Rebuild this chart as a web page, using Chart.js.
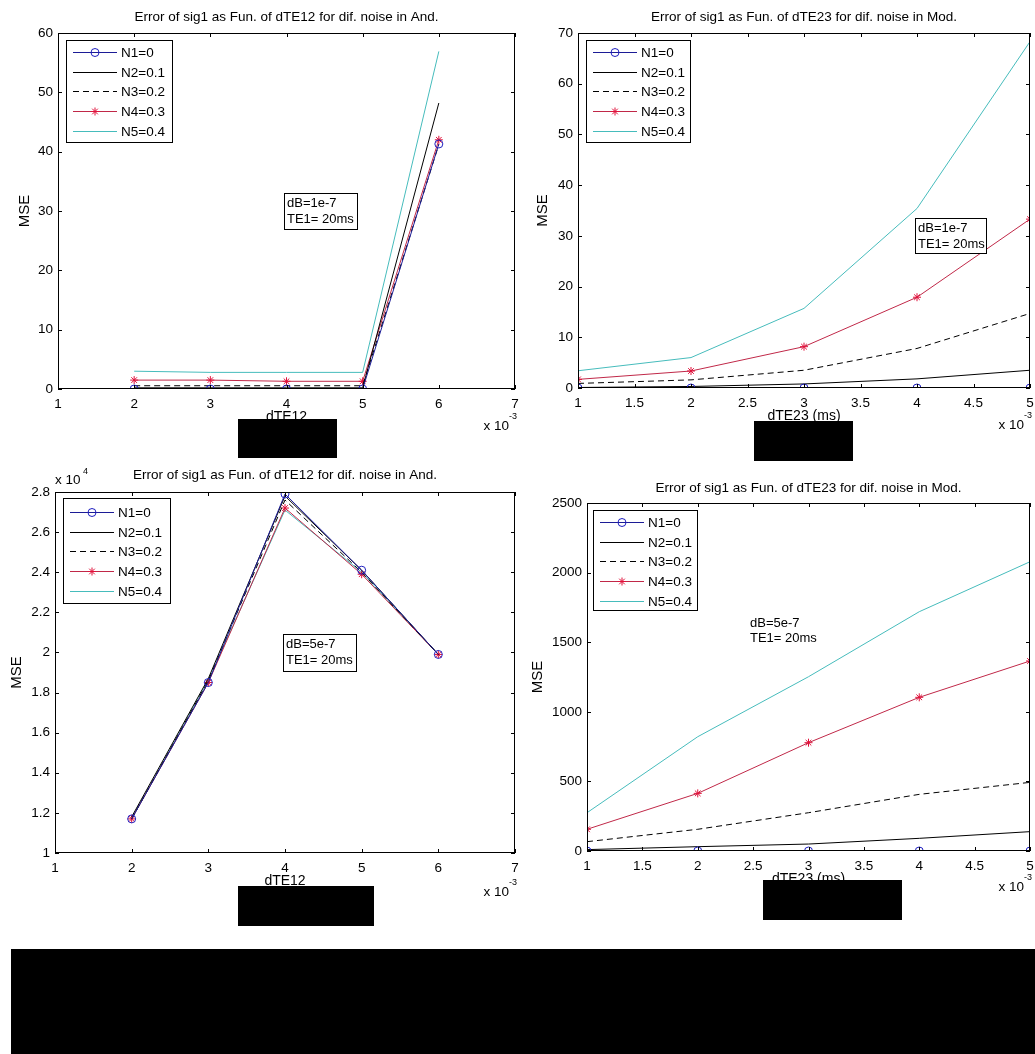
<!DOCTYPE html>
<html lang="en">
<head>
<meta charset="UTF-8">
<title>Error of sig1 as Fun. of dTE</title>
<script src="https://cdn.jsdelivr.net/npm/chart.js"></script>
<style>
    body { margin: 0; background: #ffffff; }
    #page { position: relative; width: 1035px; height: 1054px; overflow: hidden; background: #fff; }
    .plot { position: absolute; }
    .redact { position: absolute; background: #000; z-index: 5; }
</style>
</head>
<body>
<div id="page">
    <div class="plot" style="left:0;top:0"><canvas id="c1" width="520" height="460"></canvas></div>
    <div class="plot" style="left:520px;top:0"><canvas id="c2" width="515" height="460"></canvas></div>
    <div class="plot" style="left:0;top:460px"><canvas id="c3" width="520" height="480"></canvas></div>
    <div class="plot" style="left:520px;top:460px"><canvas id="c4" width="515" height="480"></canvas></div>

    <div class="redact" style="left:238px;top:419px;width:99px;height:39px"></div>
    <div class="redact" style="left:754px;top:421px;width:99px;height:40px"></div>
    <div class="redact" style="left:238px;top:886px;width:136px;height:40px"></div>
    <div class="redact" style="left:763px;top:880px;width:139px;height:40px"></div>
    <div class="redact" style="left:11px;top:949px;width:1024px;height:105px"></div>
</div>

<script>
// x positions (axis units, x 10^-3)
const dte12 = [2, 3, 4, 5, 6];
const dte23 = [1, 2, 3, 4, 5];

const noiseLabels = ['N1=0', 'N2=0.1', 'N3=0.2', 'N4=0.3', 'N5=0.4'];

// top left: dTE12, dB=1e-7
const and1N1 = [0, 0, 0, 0, 41.3];
const and1N2 = [0.2, 0.2, 0.2, 0.2, 48.2];
const and1N3 = [0.55, 0.55, 0.55, 0.55, 41.2];
const and1N4 = [1.5, 1.5, 1.3, 1.3, 42.0];
const and1N5 = [3.0, 2.8, 2.8, 2.8, 56.9];

// top right: dTE23, dB=1e-7
const mod1N1 = [0, 0, 0, 0, 0];
const mod1N2 = [0.1, 0.3, 0.8, 1.8, 3.5];
const mod1N3 = [0.9, 1.6, 3.5, 7.8, 14.7];
const mod1N4 = [1.7, 3.35, 8.15, 17.9, 33.3];
const mod1N5 = [3.4, 6.0, 15.7, 35.4, 68.3];

// bottom left: dTE12, dB=5e-7 (x 10^4)
const and5N1 = [1.17, 1.85, 2.79, 2.41, 1.99];
const and5N2 = [1.18, 1.87, 2.78, 2.41, 1.99];
const and5N3 = [1.17, 1.86, 2.76, 2.40, 1.99];
const and5N4 = [1.17, 1.85, 2.72, 2.39, 1.99];
const and5N5 = [1.17, 1.86, 2.71, 2.40, 1.99];

// bottom right: dTE23, dB=5e-7
const mod5N1 = [0, 0, 0, 0, 0];
const mod5N2 = [10, 31, 50, 91, 139];
const mod5N3 = [67, 156, 275, 407, 493];
const mod5N4 = [156, 414, 778, 1104, 1365];
const mod5N5 = [275, 821, 1252, 1719, 2078];

const FONT = "'Liberation Sans', Arial, sans-serif";

const styles = [
    { color: '#1c1c96', dash: [], point: 'circle', pointColor: '#2020c0' },
    { color: '#000000', dash: [], point: null },
    { color: '#000000', dash: [6, 4], point: null },
    { color: '#c02848', dash: [], point: 'star', pointColor: '#e0103a' },
    { color: '#46bcbc', dash: [], point: null }
];

function makeSets(xs, series) {
    return series.map((ys, i) => {
        const s = styles[i];
        return {
            label: noiseLabels[i],
            data: xs.map((x, j) => ({ x: x, y: ys[j] })),
            borderColor: s.color,
            borderWidth: 1,
            borderDash: s.dash,
            tension: 0,
            pointStyle: s.point || 'circle',
            pointRadius: s.point ? 4 : 0,
            pointBorderColor: s.pointColor || s.color,
            pointBackgroundColor: 'rgba(0,0,0,0)',
            pointBorderWidth: 1,
            fill: false
        };
    });
}

function drawMarker(ctx, type, color, x, y, r) {
    ctx.save();
    ctx.strokeStyle = color;
    ctx.lineWidth = 1;
    ctx.setLineDash([]);
    ctx.beginPath();
    if (type === 'circle') {
        ctx.arc(x, y, r, 0, Math.PI * 2);
    } else if (type === 'star') {
        ctx.moveTo(x - r, y); ctx.lineTo(x + r, y);
        ctx.moveTo(x, y - r); ctx.lineTo(x, y + r);
        const d = r * 0.707;
        ctx.moveTo(x - d, y - d); ctx.lineTo(x + d, y + d);
        ctx.moveTo(x - d, y + d); ctx.lineTo(x + d, y - d);
    }
    ctx.stroke();
    ctx.restore();
}

// matlab look: box, inward ticks, title, labels, legend, note
const matlabPlugin = {
    id: 'matlab',
    afterDatasetsDraw(chart) {
        const o = chart.options.plugins.matlab;
        const ctx = chart.ctx;
        const a = chart.chartArea;
        const xs = chart.scales.x, ys = chart.scales.y;
        ctx.save();
        ctx.strokeStyle = '#000';
        ctx.lineWidth = 1;
        ctx.setLineDash([]);
        ctx.strokeRect(a.left + 0.5, a.top + 0.5, a.right - a.left - 1, a.bottom - a.top - 1);
        ctx.beginPath();
        xs.ticks.forEach(t => {
            const px = Math.round(xs.getPixelForValue(t.value)) + 0.5;
            ctx.moveTo(px, a.bottom); ctx.lineTo(px, a.bottom - 4);
            ctx.moveTo(px, a.top); ctx.lineTo(px, a.top + 4);
        });
        ys.ticks.forEach(t => {
            const py = Math.round(ys.getPixelForValue(t.value)) + 0.5;
            ctx.moveTo(a.left, py); ctx.lineTo(a.left + 4, py);
            ctx.moveTo(a.right, py); ctx.lineTo(a.right - 4, py);
        });
        ctx.stroke();

        ctx.fillStyle = '#000';
        ctx.textBaseline = 'middle';
        // title
        ctx.font = '13.5px ' + FONT;
        ctx.textAlign = 'center';
        ctx.fillText(o.title, (a.left + a.right) / 2, a.top - o.titleGap);
        // x label
        ctx.font = '14px ' + FONT;
        ctx.fillText(o.xlabel, (a.left + a.right) / 2, a.bottom + 28);
        // y label
        ctx.save();
        ctx.translate(a.left - o.ylabelGap, (a.top + a.bottom) / 2);
        ctx.rotate(-Math.PI / 2);
        ctx.font = '15px ' + FONT;
        ctx.fillText('MSE', 0, 0);
        ctx.restore();
        // x exponent
        ctx.font = '13.5px ' + FONT;
        ctx.textAlign = 'right';
        ctx.fillText('x 10', a.right - 6, a.bottom + o.xExpGap);
        ctx.font = '9px ' + FONT;
        ctx.textAlign = 'left';
        ctx.fillText('-3', a.right - 6, a.bottom + o.xExpGap - 9);
        // y exponent
        if (o.yExp) {
            ctx.font = '13.5px ' + FONT;
            ctx.fillText('x 10', a.left, a.top - 12);
            ctx.font = '9px ' + FONT;
            ctx.fillText(o.yExp, a.left + 28, a.top - 20);
        }
        // note
        const n = o.note;
        ctx.font = '13px ' + FONT;
        ctx.textAlign = 'left';
        if (n.box) {
            ctx.fillStyle = '#fff';
            ctx.fillRect(a.left + n.x, a.top + n.y, n.w, n.h);
            ctx.strokeRect(a.left + n.x + 0.5, a.top + n.y + 0.5, n.w, n.h);
            ctx.fillStyle = '#000';
            ctx.fillText(n.lines[0], a.left + n.x + 3, a.top + n.y + 10);
            ctx.fillText(n.lines[1], a.left + n.x + 3, a.top + n.y + 26);
        } else {
            ctx.fillText(n.lines[0], a.left + n.x, a.top + n.y + 6);
            ctx.fillText(n.lines[1], a.left + n.x, a.top + n.y + 21);
        }
        // legend
        const L = o.legend;
        const lx = a.left + L.x, ly = a.top + L.y;
        ctx.fillStyle = '#fff';
        ctx.fillRect(lx, ly, L.w, L.h);
        ctx.strokeRect(lx + 0.5, ly + 0.5, L.w, L.h);
        ctx.font = '13.5px ' + FONT;
        chart.data.datasets.forEach((ds, i) => {
            const s = styles[i];
            const ry = Math.round(ly + L.row0 + i * 19.7) + 0.5;
            ctx.strokeStyle = s.color;
            ctx.setLineDash(s.dash);
            ctx.beginPath();
            ctx.moveTo(lx + 7, ry); ctx.lineTo(lx + 51, ry);
            ctx.stroke();
            ctx.setLineDash([]);
            if (s.point) drawMarker(ctx, s.point, s.pointColor, lx + 29, ry, 4);
            ctx.fillStyle = '#000';
            ctx.fillText(ds.label, lx + 55, ry + 1);
        });
        ctx.restore();
    }
};

const plain = v => String(+v.toFixed(1));

function build(id, box, xs, series, xr, yr, extra) {
    // box: canvas origin + desired plot area in page coords
    const w = box.cw, h = box.ch;
    new Chart(document.getElementById(id), {
        type: 'line',
        data: { datasets: makeSets(xs, series) },
        plugins: [matlabPlugin],
        options: {
            responsive: false,
            animation: false,
            devicePixelRatio: 1,
            layout: { padding: { left: 0, bottom: 0, top: box.T - box.cy, right: box.cx + w - box.R } },
            plugins: { legend: { display: false }, tooltip: { enabled: false }, title: { display: false }, matlab: extra },
            scales: {
                x: {
                    type: 'linear', min: xr[0], max: xr[1],
                    grid: { display: false, drawTicks: false }, border: { display: false },
                    ticks: { stepSize: xr[2], autoSkip: false, maxRotation: 0, padding: 7, color: '#000',
                             font: { family: FONT, size: 13.5 }, callback: plain },
                    afterFit(s) { s.height = box.cy + h - box.B; s.paddingLeft = 0; s.paddingRight = 0; }
                },
                y: {
                    min: yr[0], max: yr[1],
                    grid: { display: false, drawTicks: false }, border: { display: false },
                    ticks: { stepSize: yr[2], autoSkip: false, padding: 5, color: '#000',
                             font: { family: FONT, size: 13.5 }, callback: plain },
                    afterFit(s) { s.width = box.L - box.cx; s.paddingTop = 0; s.paddingBottom = 0; }
                }
            }
        }
    });
}

build('c1', { cx: 0, cy: 0, cw: 520, ch: 460, L: 58, T: 33, R: 516, B: 389 },
    dte12, [and1N1, and1N2, and1N3, and1N4, and1N5], [1, 7, 1], [0, 60, 10], {
        title: 'Error of sig1 as Fun. of dTE12 for dif. noise in And.', titleGap: 16,
        xlabel: 'dTE12', ylabelGap: 33, xExpGap: 37,
        note: { box: true, x: 226, y: 160, w: 73, h: 36, lines: ['dB=1e-7', 'TE1= 20ms'] },
        legend: { x: 8, y: 7, w: 106, h: 102, row0: 12 }
    });

build('c2', { cx: 520, cy: 0, cw: 515, ch: 460, L: 578, T: 33, R: 1031, B: 388 },
    dte23, [mod1N1, mod1N2, mod1N3, mod1N4, mod1N5], [1, 5, 0.5], [0, 70, 10], {
        title: 'Error of sig1 as Fun. of dTE23 for dif. noise in Mod.', titleGap: 16,
        xlabel: 'dTE23 (ms)', ylabelGap: 35, xExpGap: 37,
        note: { box: true, x: 337, y: 185, w: 71, h: 35, lines: ['dB=1e-7', 'TE1= 20ms'] },
        legend: { x: 8, y: 7, w: 104, h: 102, row0: 12 }
    });

build('c3', { cx: 0, cy: 460, cw: 520, ch: 480, L: 55, T: 492, R: 516, B: 853 },
    dte12, [and5N1, and5N2, and5N3, and5N4, and5N5], [1, 7, 1], [1, 2.8, 0.2], {
        title: 'Error of sig1 as Fun. of dTE12 for dif. noise in And.', titleGap: 17,
        xlabel: 'dTE12', ylabelGap: 38, xExpGap: 39, yExp: '4',
        note: { box: true, x: 228, y: 142, w: 73, h: 37, lines: ['dB=5e-7', 'TE1= 20ms'] },
        legend: { x: 8, y: 6, w: 107, h: 105, row0: 14 }
    });

build('c4', { cx: 520, cy: 460, cw: 515, ch: 480, L: 587, T: 503, R: 1031, B: 851 },
    dte23, [mod5N1, mod5N2, mod5N3, mod5N4, mod5N5], [1, 5, 0.5], [0, 2500, 500], {
        title: 'Error of sig1 as Fun. of dTE23 for dif. noise in Mod.', titleGap: 15,
        xlabel: 'dTE23 (ms)', ylabelGap: 49, xExpGap: 36,
        note: { box: false, x: 163, y: 114, lines: ['dB=5e-7', 'TE1= 20ms'] },
        legend: { x: 6, y: 7, w: 104, h: 100, row0: 12 }
    });
</script>
</body>
</html>
